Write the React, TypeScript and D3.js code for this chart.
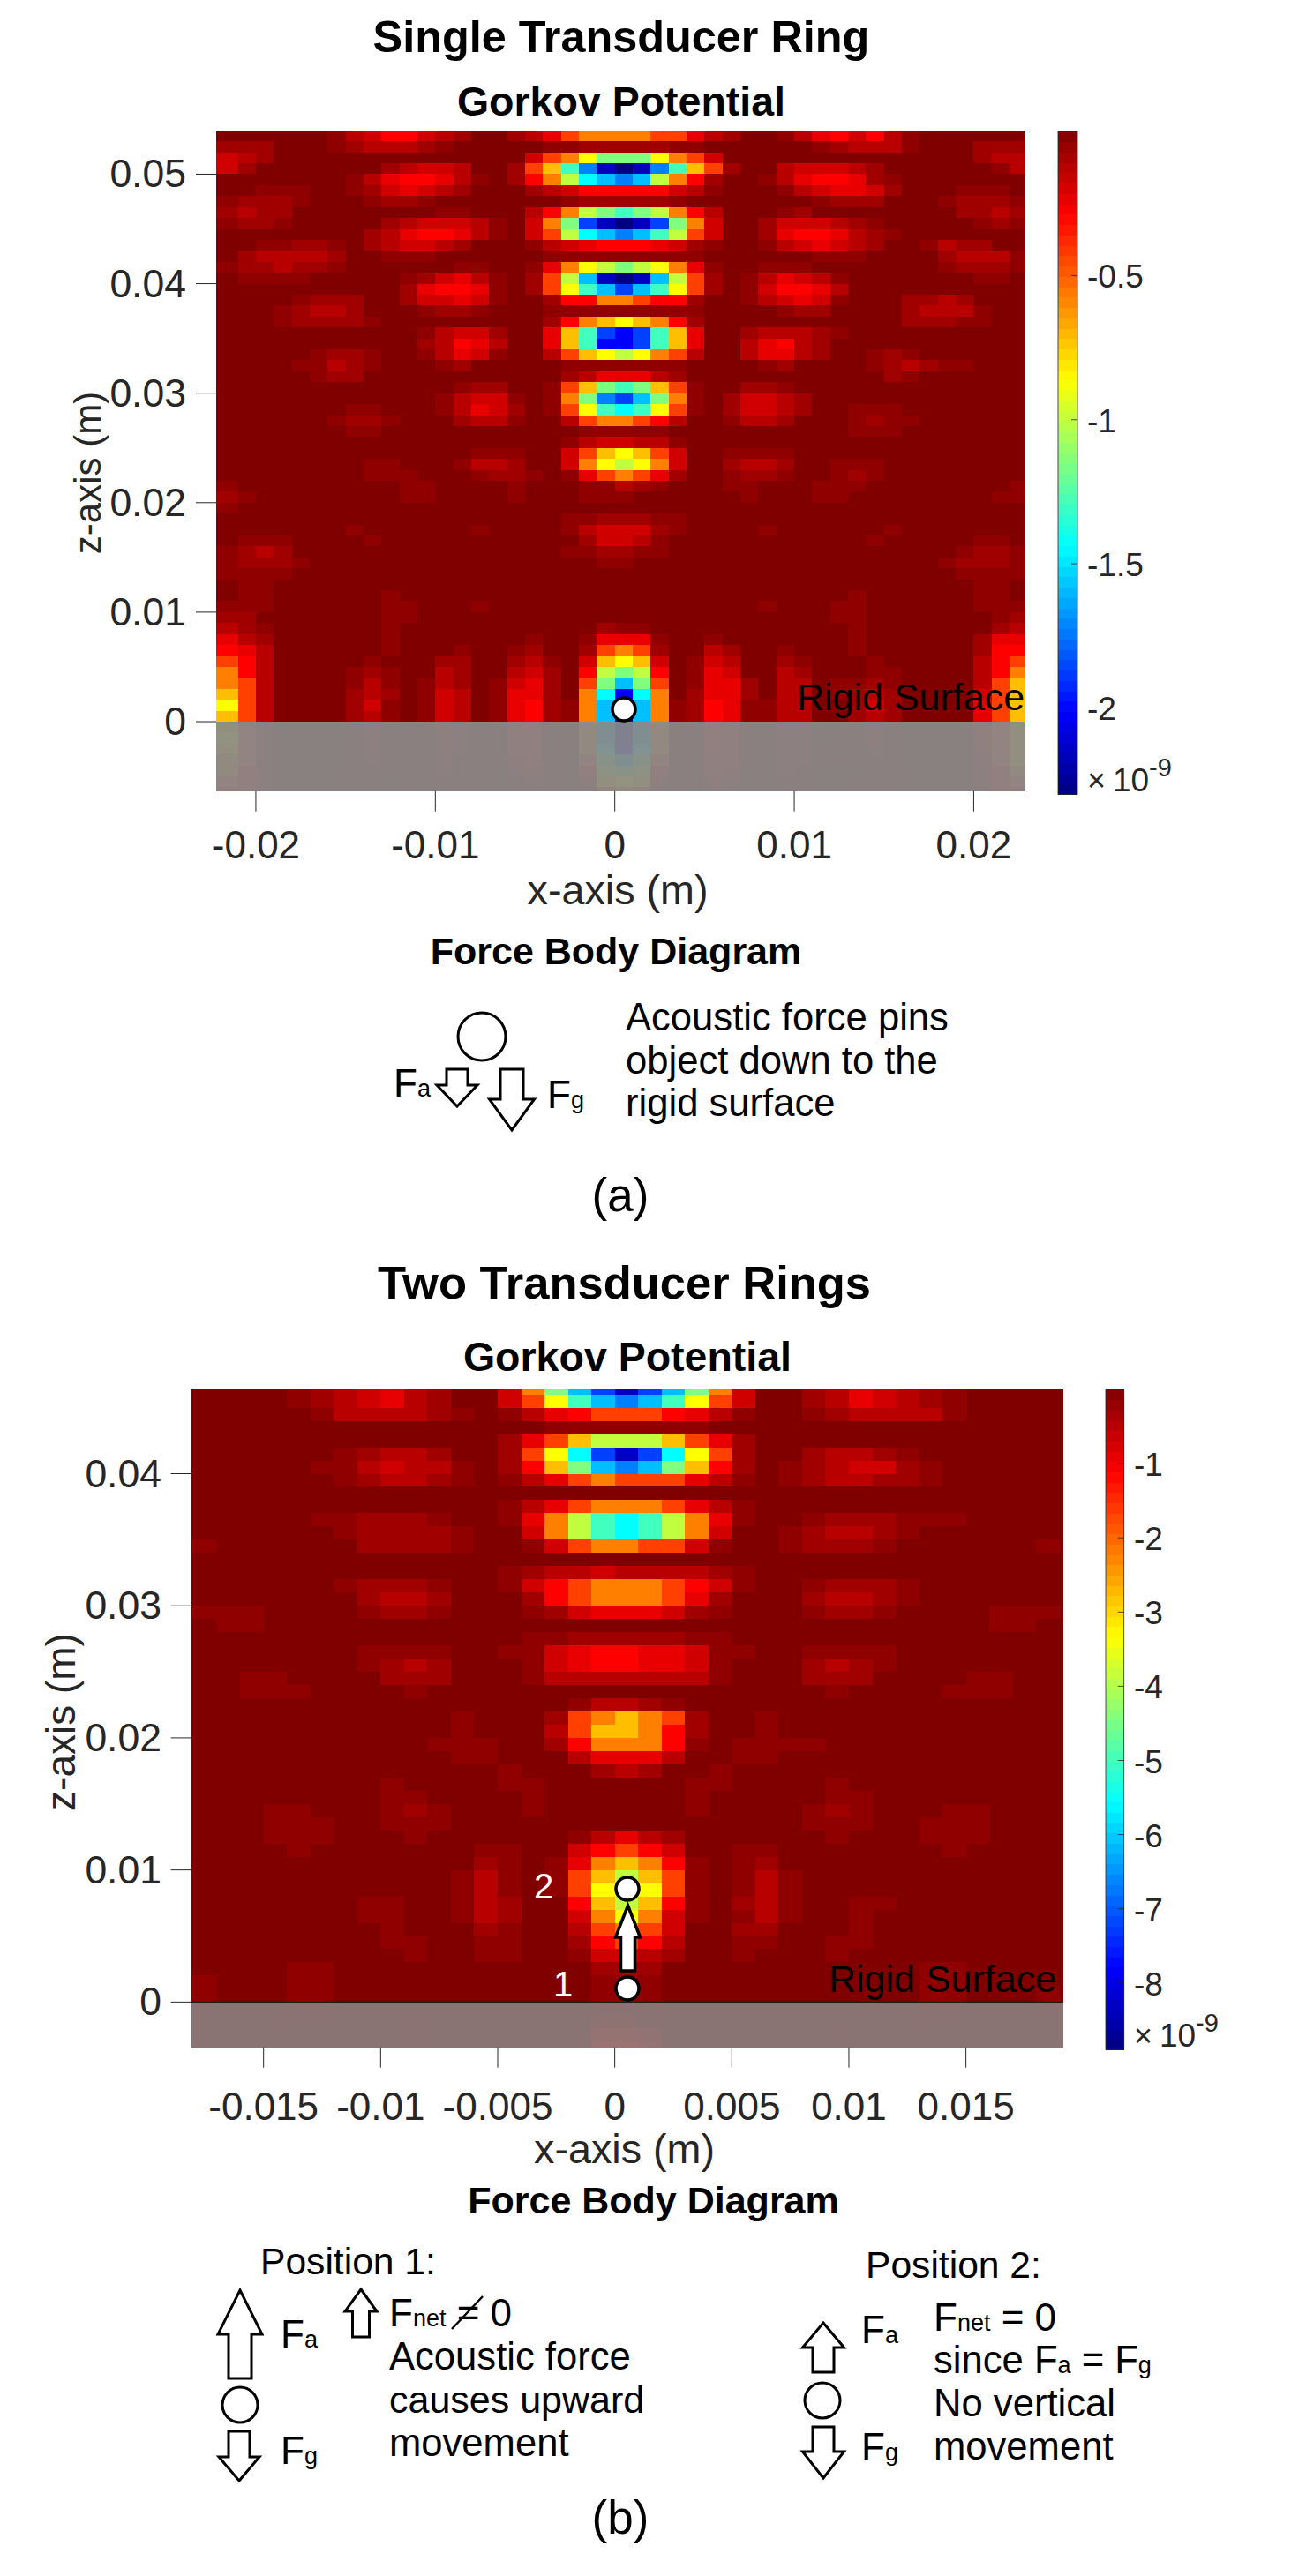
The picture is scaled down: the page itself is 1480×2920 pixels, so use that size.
import React from "react";
import * as d3 from "d3";

// Level codes: each letter is a position on the jet colormap (1 = dark red, 0 = navy).
const levelCodes = ".abcdefghijklmnopqrst";
const levelPositions = [1, 0.984, 0.968, 0.9445, 0.921, 0.8975, 0.875, 0.8125, 0.75, 0.6875, 0.625, 0.5625, 0.5, 0.4375, 0.375, 0.3125, 0.25, 0.1875, 0.125, 0.0625, 0];
const jetStops = [0, 0.125, 0.375, 0.625, 0.875, 1];
const jetColours = ["#000080", "#0000ff", "#00ffff", "#ffff00", "#ff0000", "#800000"];

type Row = [number, string];

// Panel (a): [row in mm, "first column in mm:levels ..."]
const singleTop: Row[] = [
  [53, "-16:acdffdcb -6:bceghhhhggecb 9:acefdfca"],
  [52, "-22:bbb -16:abcccba -4:aabbbbbaa 11:abccca 20:bbb"],
  [51, "-22:dcb -5:dghjllljhgd 20:bcc"],
  [50, "-22:db -13:bcddc -6:bgimpstspmigb 9:cdddcb 21:ac"],
  [49, "-15:aceffeca -6:bfhknopokhfb 8:aceffeba"],
  [48, "-20:aaa -15:abdedcb -5:bcdfffffdca 9:acdeedb 19:aaa"],
  [47, "-22:abbba -14:abba -3:abbbbba 11:abbb 18:abbba"],
  [46, "-22:bcbb -10:aa -5:cfhklmlkhfc 9:ab 19:bbcb"],
  [45, "-22:abba -13:bcdddca -5:dhlqstsqlhd 8:bdddcba 20:aba"],
  [44, "-14:bceffeca -5:dgknopomkgd 8:beffecba"],
  [43, "-20:aabba -14:bcddcb -5:acdefffedba 8:acdedcb 17:acbb"],
  [42, "-21:bccccb -13:aaa -4:aaaaaaaaa 11:aaa 18:bccca"],
  [41, "-22:abbcbba -9:aa -5:aehjklkjhea 8:aaa 18:abbba"],
  [40, "-21:aaaa -12:abdeca -5:bgkostsokgb 7:acedca 20:aa"],
  [39, "-12:beffea -5:bgjmoqomjgb 7:adffec"],
  [38, "-18:abbb -12:bddeda -4:bffhhgffb 7:acdeda 16:bbcb"],
  [37, "-19:abccb -11:abba -4:aaaaaaaaa 9:abb 16:bccca"],
];
const singleMiddle: Row[] = [
  [36, "-19:abbbba -4:bfhijihfb 16:bbbaa"],
  [35, "-11:acddb -4:eimqrqmie 7:bcccba"],
  [34, "-11:bcfec -4:eimrrqmie 7:cefcb"],
  [33, "-17:abba -11:aceda -4:cgijkjhgc 7:ceecb 14:aba"],
  [32, "-18:aacba -10:ab -3:aaaaaaa 8:ab 14:abcbaa"],
  [31, "-17:abb -3:bceeecb 15:ba"],
  [30, "-9:abb -4:agilmliga 7:bba"],
  [29, "-10:acdda -4:ahlpqolha 6:bddcb"],
  [28, "-15:aa -10:acedb -4:agjmnmjga 6:bddcb 13:aaa"],
  [27, "-16:abba -9:bcca -3:cghhgfc 6:accb 13:abaa"],
  [26, "-15:aa -2:aaaaa 13:aaa"],
  [25, "-3:acddcca"],
  [24, "-8:aaa -3:dgijigd 6:aaaa"],
  [23, "-14:aa -9:accb -3:dhjkjhd 6:bccb 12:aaa"],
  [22, "-14:aaa -8:abba -3:aeghgeb 6:abba 12:aba"],
  [21, "-22:a -12:aa -6:a -2:aacba 6:aa 11:aaa 22:a"],
  [20, "-22:ba -12:aa -6:a -2:aaa 7:a 11:aa 21:aa"],
  [19, "-22:a"],
];
const singleLower: Row[] = [
  [18, "-3:aabbbaa"],
  [17, "-15:a -8:a -3:acdddba 8:a 15:a"],
  [16, "-21:aaa -14:a -2:bddca 14:a 20:aa"],
  [15, "-22:abcb -3:aabbaa 19:abba"],
  [14, "-22:abbba -1:aa 18:abbba"],
  [13, "-22:aaaa 19:aaaa"],
  [12, "-21:aa 20:aa"],
  [11, "-21:aa -13:a 13:a 20:aa"],
  [10, "-22:aaa -13:aa -8:a 8:a 12:aa 20:aaa"],
  [9, "-22:bb -13:aa 12:aa 21:ab"],
  [8, "-22:cba -13:a -1:baa 13:a 21:bc"],
  [7, "-22:ecb -13:a -5:a -2:aeeea 5:a 13:a 20:bee"],
  [6, "-22:fec -13:a -9:a -6:ab -2:bghgb 5:cb 9:a 13:a 20:bff"],
  [5, "-22:gfc -14:a -10:bb -6:bca -2:dijid 4:adc 9:ba 14:a 20:cfg"],
  [4, "-22:hfc -15:aba -10:cb -6:cdb -2:fklkf 4:aed 9:cb 14:aa 20:cfh"],
  [3, "-22:hgc -15:aca -11:acb -7:adeb -2:glolg 4:aeeb 9:cc 12:aaba 20:cgi"],
  [2, "-22:igc -15:bcb -11:adc -7:aeeb -2:hnrnh 4:beeb 9:cc 12:abcb 20:dgi"],
  [1, "-22:jgc -15:bda -11:adc -7:aefb -3:ahosoha 4:bfeaa 9:cc 13:bdb 20:egi"],
  [0, "-22:igc -15:bca -11:adc -7:aefb -3:ahosoha 4:bfeaa 9:cc 13:bcb 20:egi"],
];
const singleUnder: Row[] = [
  [-1, "-22:igc -15:bca -11:adc -7:aefb -3:ahosoha 4:bfeaa 9:cc 13:bcb 20:egi"],
  [-2, "-22:jgc -15:bda -11:adc -7:aefb -3:ahosoha 4:bfeaa 9:cc 13:bdb 20:egi"],
  [-3, "-22:igc -15:bcb -11:adc -7:aeeb -2:hnrnh 4:beeb 9:cc 12:abcb 20:dgi"],
  [-4, "-22:hgc -15:aca -11:acb -7:adeb -2:glolg 4:aeeb 9:cc 12:aaba 20:cgi"],
  [-5, "-22:hfc -15:aba -10:cb -6:cdb -2:fklkf 4:aed 9:cb 14:aa 20:cfh"],
  [-6, "-22:gfc -14:a -10:bb -6:bca -2:dijid 4:adc 9:ba 14:a 20:cfg"],
  [-7, "-22:fec -13:a -9:a -6:ab -2:bghgb 5:cb 9:a 13:a 20:bff"],
];

// Panel (b)
const doubleTop: Row[] = [
  [46, "-14:abcdecb -5:dhloqsqolhd 8:bcedcba"],
  [45, "-14:abcdecb -5:dgjmopomjgd 8:bcedcba"],
  [44, "-13:accccba -5:acefgggfeca 8:abcccca"],
  [43, "-3:aaaaaaa"],
  [42, "-5:begikkkigeb"],
  [41, "-12:abccb -5:bgjnqsqnjgb 8:bccba"],
  [40, "-13:aacdcca -5:bfilopolifb 7:abcddba"],
  [39, "-12:abccba -5:aceghgggeca 7:abccbba"],
  [37, "-5:aceghhhgeca"],
  [36, "-13:aabbba -5:aehkmnmkhea 8:abbbaaa"],
  [35, "-12:abbbba -4:dhkmnmkhd 7:abccba"],
  [34, "-18:a -11:bbbba -4:adghhggda 7:abbba 18:a"],
];
const doubleMiddle: Row[] = [
  [32, "-5:abccdccccba"],
  [31, "-12:abbba -5:adfghhhgfda 8:abbba"],
  [30, "-11:bccb -4:bfghhhgeb 8:bccba"],
  [29, "-18:aaa -11:abba -4:abdeeedba 8:abba 16:aaa"],
  [28, "-17:aa 16:aa"],
  [27, "-4:aabbbbbaa"],
  [26, "-11:aaaa -5:aadeffeedaa 8:aaaa"],
  [25, "-11:abcb -4:adeffeeda 8:bcba"],
  [24, "-16:aa -10:bbb -4:accccccca 8:bbb 15:aa"],
  [23, "-16:aaa -9:a 9:a 14:aaa"],
  [22, "-2:accba"],
  [21, "-7:a -3:bghihgb 6:a"],
  [20, "-7:a -3:cgiihfb 6:a"],
  [19, "-8:aaa -3:bfhhhfa 5:aaaa"],
  [18, "-7:aa -2:ceeec 5:aa"],
  [17, "-5:a -1:bcb 4:a"],
];
const doubleLower: Row[] = [
  [16, "-10:a -5:aa 3:aa 9:a"],
  [15, "-10:aa -4:a 3:a 9:aa"],
  [14, "-15:aa -10:aba -4:a 3:a 8:aba 14:aa"],
  [13, "-15:aaa -10:aaa 8:aaa 13:aaa"],
  [12, "-15:aaa -9:a -2:acecb 9:a 13:aaa"],
  [11, "-14:a -6:aa -2:dfgfd 5:aa 14:a"],
  [10, "-6:ba -3:aehihfa 5:ab"],
  [9, "-7:aca -3:agikiga 5:aca"],
  [8, "-7:aca -3:agjkjga 5:aca"],
  [7, "-11:aa -7:acb -2:fikif 3:a 5:bca 10:aa"],
  [6, "-11:aa -7:acb -2:dhjhd 3:a 5:aca 10:a"],
  [5, "-10:a -6:ba -2:cghgd 5:bb 10:a"],
  [4, "-10:aa -6:aa -2:bfgfc 5:aa 9:aa"],
  [3, "-9:a -6:aa -2:addcb 5:a 9:a"],
  [2, "-14:aa -1:bbb 13:aa"],
  [1, "-18:a -14:aa -1:aaa 13:aa"],
  [0, "-18:a -14:aa -1:aaa 13:aa 18:a"],
  [-1, "-18:a -14:aa -1:aaa 13:aa 18:a"],
  [-2, "-14:aa -1:bba 13:aa"],
  [-3, "-9:a -1:ddc 9:a"],
  [-4, "-1:eeda"],
];

const singleXTicks = [-0.02, -0.01, 0, 0.01, 0.02];
const singleXLabels = ["-0.02", "-0.01", "0", "0.01", "0.02"];
const singleZTicks = [0, 0.01, 0.02, 0.03, 0.04, 0.05];
const singleZLabels = ["0", "0.01", "0.02", "0.03", "0.04", "0.05"];
const singleBarTicks = [-0.5, -1, -1.5, -2];
const singleBarLabels = ["-0.5", "-1", "-1.5", "-2"];
const doubleXTicks = [-0.015, -0.01, -0.005, 0, 0.005, 0.01, 0.015];
const doubleXLabels = ["-0.015", "-0.01", "-0.005", "0", "0.005", "0.01", "0.015"];
const doubleZTicks = [0, 0.01, 0.02, 0.03, 0.04];
const doubleZLabels = ["0", "0.01", "0.02", "0.03", "0.04"];
const doubleBarTicks = [-1, -2, -3, -4, -5, -6, -7, -8];
const doubleBarLabels = ["-1", "-2", "-3", "-4", "-5", "-6", "-7", "-8"];

const SANS = "'Liberation Sans', Arial, sans-serif";
const AXIS = "#262626";

type Placed = { x: number; y: number; size: number; anchor?: "start" | "middle" | "end"; bold?: boolean; fill?: string; rotate?: boolean; children: React.ReactNode };
function Label({ x, y, size, anchor = "start", bold, fill = "#000", rotate, children }: Placed) {
  return (
    <text x={x} y={y} fontFamily={SANS} fontSize={size} fontWeight={bold ? 700 : 400} fill={fill} textAnchor={anchor}
      transform={rotate ? `rotate(-90 ${x} ${y})` : undefined}>{children}</text>
  );
}
const Sub = ({ s, size = 27 }: { s: string; size?: number }) => <tspan fontSize={size}>{s}</tspan>;

function parseRows(rows: Row[]) {
  const lookup = new Map<string, number>();
  rows.forEach(([row, spec]) => {
    spec.split(" ").forEach((run) => {
      const at = run.lastIndexOf(":");
      const first = +run.slice(0, at);
      Array.from(run.slice(at + 1)).forEach((c, i) => lookup.set(`${row},${first + i}`, levelPositions[levelCodes.indexOf(c)]));
    });
  });
  return lookup;
}

type PanelProps = {
  rows: Row[]; xDomain: [number, number]; zDomain: [number, number]; xRange: [number, number]; zRange: [number, number];
  vmin: number; xTicks: number[]; xLabels: string[]; zTicks: number[]; zLabels: string[];
  barTicks: number[]; barLabels: string[]; barX: [number, number]; barY: [number, number]; barLabelX: number;
  tickLabelBase: number; zLabelRight: number; overlay: number; baseLine?: boolean;
};

function Panel(p: PanelProps) {
  const x = d3.scaleLinear().domain(p.xDomain).range(p.xRange);
  const z = d3.scaleLinear().domain(p.zDomain).range(p.zRange);
  const colour = d3.scaleLinear<string>().domain(jetStops.map((t) => p.vmin * (1 - t))).range(jetColours).interpolate(d3.interpolateRgb);
  const bar = d3.scaleLinear().domain([p.vmin, 0]).range([p.barY[1], p.barY[0]]);
  const lookup = parseRows(p.rows);
  // The leftmost cell runs from the axis edge to the next whole millimetre.
  const cols = d3.range(Math.ceil(p.xDomain[0] * 1000), Math.ceil(p.xDomain[1] * 1000 - 1e-6));
  const rws = d3.range(Math.floor(p.zDomain[0] * 1000 + 1e-6), Math.ceil(p.zDomain[1] * 1000 - 1e-6));
  const [x0, x1] = p.xRange;
  const [z0, z1] = p.zRange;
  const barLevels = d3.range(64);
  const bh = (p.barY[1] - p.barY[0]) / 64;
  return (
    <g>
      <g shapeRendering="crispEdges">
        {rws.flatMap((r) =>
          cols.map((c) => {
            const left = c === cols[0] ? x0 : Math.round(x(c / 1000));
            const right = Math.round(Math.min(x((c + 1) / 1000), x1));
            const top = Math.round(Math.max(z((r + 1) / 1000), z1));
            const bottom = Math.round(Math.min(z(r / 1000), z0));
            const t = lookup.get(`${r},${c}`) ?? 1;
            return <rect key={`${r}_${c}`} x={left} y={top} width={right - left} height={bottom - top} fill={colour(p.vmin * (1 - t))} />;
          })
        )}
        <rect x={x0} y={z(0)} width={x1 - x0} height={z0 - z(0)} fill="#8a8a8a" fillOpacity={p.overlay} />
      </g>
      {p.baseLine && <line x1={x0} x2={x1} y1={z(0)} y2={z(0)} stroke="#111" strokeWidth={1} />}
      {p.xTicks.map((t, i) => (
        <g key={i}>
          <line x1={x(t)} x2={x(t)} y1={z0} y2={z0 + 23} stroke={AXIS} strokeWidth={1} />
          <Label x={x(t)} y={p.tickLabelBase} size={44} anchor="middle" fill={AXIS}>{p.xLabels[i]}</Label>
        </g>
      ))}
      {p.zTicks.map((t, i) => (
        <g key={i}>
          <line x1={x0 - 23} x2={x0} y1={z(t)} y2={z(t)} stroke={AXIS} strokeWidth={1} />
          <Label x={p.zLabelRight} y={z(t) + 15} size={44.5} anchor="end" fill={AXIS}>{p.zLabels[i]}</Label>
        </g>
      ))}
      <g shapeRendering="crispEdges">
        {barLevels.map((i) => (
          <rect key={i} x={p.barX[0]} width={p.barX[1] - p.barX[0]} y={p.barY[1] - (i + 1) * bh} height={bh + 0.5}
            fill={colour(p.vmin * (1 - (i + 0.5) / 64))} />
        ))}
      </g>
      <rect x={p.barX[0]} y={p.barY[0]} width={p.barX[1] - p.barX[0]} height={p.barY[1] - p.barY[0]} fill="none" stroke={AXIS} strokeWidth={0.8} />
      {p.barTicks.map((t, i) => (
        <g key={i}>
          <line x1={p.barX[1] - 7} x2={p.barX[1]} y1={bar(t)} y2={bar(t)} stroke={AXIS} strokeWidth={0.8} />
          <Label x={p.barLabelX} y={bar(t) + 14} size={37} fill={AXIS}>{p.barLabels[i]}</Label>
        </g>
      ))}
      <Label x={p.barLabelX} y={p.barY[1] - 4} size={36} fill={AXIS}>×</Label>
      <Label x={p.barLabelX + 29} y={p.barY[1] - 4} size={37} fill={AXIS}>10</Label>
      <Label x={p.barLabelX + 70} y={p.barY[1] - 21} size={29} fill={AXIS}>-9</Label>
    </g>
  );
}

// Outlined block arrow: tip, shoulder height, shaft end, half widths.
function Arrow({ cx, tip, shoulder, end, shaft, head, fill = "none", sw = 3 }: { cx: number; tip: number; shoulder: number; end: number; shaft: number; head: number; fill?: string; sw?: number }) {
  const d = d3.line()([
    [cx, tip], [cx + head, shoulder], [cx + shaft, shoulder], [cx + shaft, end],
    [cx - shaft, end], [cx - shaft, shoulder], [cx - head, shoulder],
  ]) + "Z";
  return <path d={d} fill={fill} stroke="#000" strokeWidth={sw} strokeLinejoin="miter" />;
}

export default function App() {
  return (
    <svg width={1480} height={2920} viewBox="0 0 1480 2920" style={{ position: "absolute", left: 0, top: 0, background: "#fff" }}>
      {/* Panel (a) */}
      <Label x={704} y={59} size={50.4} anchor="middle" bold>Single Transducer Ring</Label>
      <Label x={704} y={131} size={46.5} anchor="middle" bold>Gorkov Potential</Label>
      <Panel rows={[...singleTop, ...singleMiddle, ...singleLower, ...singleUnder]}
        xDomain={[-0.02221, 0.02288]} zDomain={[-0.00634, 0.05388]} xRange={[245, 1162]} zRange={[896.7, 149.3]}
        vmin={-2.3} xTicks={singleXTicks} xLabels={singleXLabels} zTicks={singleZTicks} zLabels={singleZLabels}
        barTicks={singleBarTicks} barLabels={singleBarLabels} barX={[1199, 1221]} barY={[149, 900.5]} barLabelX={1232}
        tickLabelBase={973} zLabelRight={211} overlay={0.93} />
      <Label x={903} y={805} size={43}>Rigid Surface</Label>
      <circle cx={707} cy={804} r={13} fill="#fff" stroke="#000" strokeWidth={3.5} />
      <Label x={700} y={1025} size={46.7} anchor="middle" fill={AXIS}>x-axis (m)</Label>
      <Label x={114} y={536} size={42} anchor="middle" fill={AXIS} rotate>z-axis (m)</Label>
      <Label x={698} y={1093} size={43} anchor="middle" bold>Force Body Diagram</Label>
      <circle cx={546} cy={1175} r={27} fill="none" stroke="#000" strokeWidth={3} />
      <Arrow cx={518} tip={1254} shoulder={1230} end={1212} shaft={12} head={23} />
      <Arrow cx={580} tip={1281} shoulder={1246} end={1212} shaft={13} head={25.5} />
      <Label x={446} y={1243} size={44}>F<Sub s="a" /></Label>
      <Label x={620} y={1256} size={44}>F<Sub s="g" /></Label>
      <Label x={709} y={1168} size={43.6}>Acoustic force pins</Label>
      <Label x={709} y={1217} size={43.6}>object down to the</Label>
      <Label x={709} y={1265} size={43.6}>rigid surface</Label>
      <Label x={703} y={1373} size={53} anchor="middle">(a)</Label>

      {/* Panel (b) */}
      <Label x={707.5} y={1472} size={52.5} anchor="middle" bold>Two Transducer Rings</Label>
      <Label x={711} y={1554} size={46.5} anchor="middle" bold>Gorkov Potential</Label>
      <Panel rows={[...doubleTop, ...doubleMiddle, ...doubleLower]}
        xDomain={[-0.01809, 0.01916]} zDomain={[-0.00343, 0.04638]} xRange={[216.7, 1205]} zRange={[2320.7, 1575]}
        vmin={-8.9} xTicks={doubleXTicks} xLabels={doubleXLabels} zTicks={doubleZTicks} zLabels={doubleZLabels}
        barTicks={doubleBarTicks} barLabels={doubleBarLabels} barX={[1253, 1273.7]} barY={[1575, 2323.5]} barLabelX={1285}
        tickLabelBase={2403} zLabelRight={183} overlay={0.83} baseLine />
      <Label x={939} y={2258} size={43}>Rigid Surface</Label>
      <Label x={605} y={2152} size={40} fill="#fff">2</Label>
      <Label x={627} y={2263} size={40} fill="#fff">1</Label>
      <circle cx={711} cy={2141} r={13} fill="#fff" stroke="#000" strokeWidth={3.5} />
      <circle cx={711} cy={2254} r={13} fill="#fff" stroke="#000" strokeWidth={3.5} />
      <Arrow cx={711.5} tip={2160} shoulder={2196} end={2234} shaft={8} head={14} fill="#fff" sw={3.5} />
      <Label x={707.5} y={2452} size={46.7} anchor="middle" fill={AXIS}>x-axis (m)</Label>
      <Label x={85} y={1952} size={46} anchor="middle" fill={AXIS} rotate>z-axis (m)</Label>
      <Label x={740.5} y={2509} size={43} anchor="middle" bold>Force Body Diagram</Label>

      <Label x={295} y={2578} size={42.6}>Position 1:</Label>
      <Arrow cx={272} tip={2596} shoulder={2646} end={2696} shaft={13} head={25} />
      <Label x={318} y={2661} size={44}>F<Sub s="a" /></Label>
      <Arrow cx={409} tip={2595} shoulder={2620} end={2649} shaft={9.5} head={18} />
      <Label x={441} y={2637} size={44}>F<Sub s="net" /> = 0</Label>
      <line x1={512} y1={2640} x2={547} y2={2603} stroke="#000" strokeWidth={2.5} />
      <Label x={441} y={2686} size={43.6}>Acoustic force</Label>
      <Label x={441} y={2735} size={43}>causes upward</Label>
      <Label x={441} y={2784} size={43.6}>movement</Label>
      <circle cx={272} cy={2726} r={20} fill="none" stroke="#000" strokeWidth={3} />
      <Arrow cx={271} tip={2812} shoulder={2785} end={2756} shaft={12} head={23} />
      <Label x={318} y={2793} size={44}>F<Sub s="g" /></Label>

      <Label x={981} y={2582} size={42.6}>Position 2:</Label>
      <Arrow cx={933} tip={2633} shoulder={2661} end={2689} shaft={12} head={23.5} />
      <Label x={976} y={2656} size={44}>F<Sub s="a" /></Label>
      <circle cx={932} cy={2721} r={20} fill="none" stroke="#000" strokeWidth={3} />
      <Arrow cx={933} tip={2809} shoulder={2779} end={2751} shaft={12} head={23.5} />
      <Label x={976} y={2789} size={44}>F<Sub s="g" /></Label>
      <Label x={1058} y={2642} size={44}>F<Sub s="net" /> = 0</Label>
      <Label x={1058} y={2690} size={43.6}>since F<Sub s="a" /> = F<Sub s="g" /></Label>
      <Label x={1058} y={2739} size={43.6}>No vertical</Label>
      <Label x={1058} y={2788} size={43.6}>movement</Label>
      <Label x={703} y={2872} size={53} anchor="middle">(b)</Label>
    </svg>
  );
}
